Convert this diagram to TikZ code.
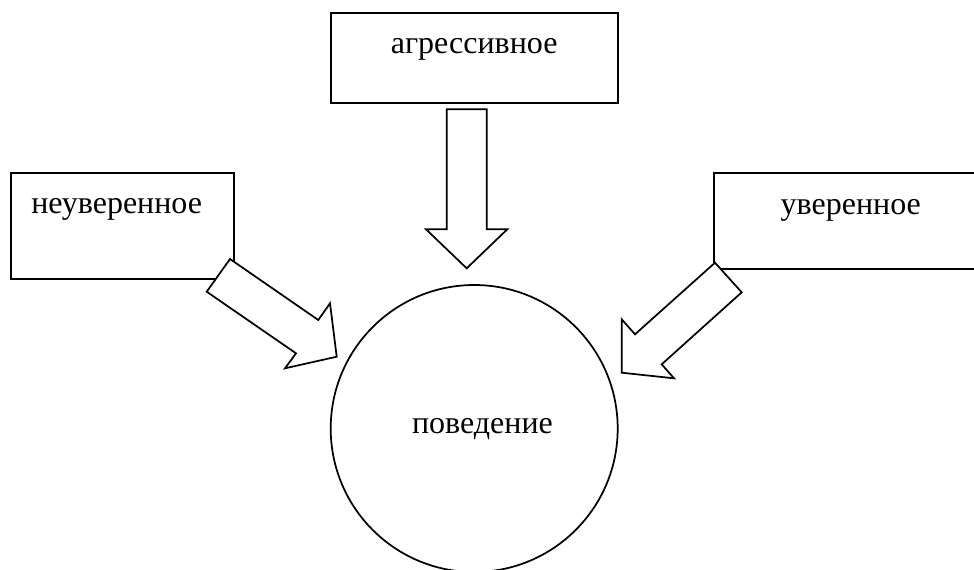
\documentclass[tikz,border=0pt]{standalone}
\usepackage{fontspec}
\setmainfont{Liberation Serif}
\begin{document}
\begin{tikzpicture}[x=0.75pt,y=-0.75pt,
  line width=1.3pt,
  boxstyle/.style={draw,rectangle,inner sep=0pt,fill=white},
  lbl/.style={anchor=base,inner sep=0pt,font=\fontsize{24}{28}\selectfont},
  blockarrow/.style={draw,fill=white,line join=miter}]
\useasboundingbox (0,0) rectangle (974,569);
\clip (0,0) rectangle (974,569);
% boxes
\node[boxstyle,minimum width=286.7*0.75pt,minimum height=90*0.75pt] (agr) at (474.35,58.3) {};
\node[boxstyle,minimum width=223.6*0.75pt,minimum height=105.7*0.75pt] (neuv) at (122.5,226.15) {};
\node[boxstyle,minimum width=300*0.75pt,minimum height=95.7*0.75pt] (uv) at (864.3,221.15) {};
% circle
\node[draw,circle,inner sep=0pt,minimum size=287*0.75pt] (beh) at (474.2,428.5) {};
% labels
\node[lbl] (agrt) at (474.2,53.3) {агрессивное};
\node[lbl] (neuvt) at (116.7,213.3) {неуверенное};
\node[lbl] (uvt) at (850.8,214) {уверенное};
\node[lbl] (beht) at (482.5,433) {поведение};
% block arrows
\draw[blockarrow] (446.7,109.3) -- (486.7,109.3) -- (486.7,229.3) -- (507.3,229.3)
  -- (466.7,268.3) -- (426,229.3) -- (446.7,229.3) -- cycle;
\draw[blockarrow] (230,259) -- (318.3,320) -- (330,303.3) -- (336.7,356.7)
  -- (285,368.3) -- (296,353.3) -- (206.7,291.7) -- cycle;
\draw[blockarrow] (715,262.7) -- (741.7,292.3) -- (661.7,364.3) -- (674,378.3)
  -- (621.7,372.7) -- (621.7,319.3) -- (635,334.3) -- cycle;
\end{tikzpicture}
\end{document}
